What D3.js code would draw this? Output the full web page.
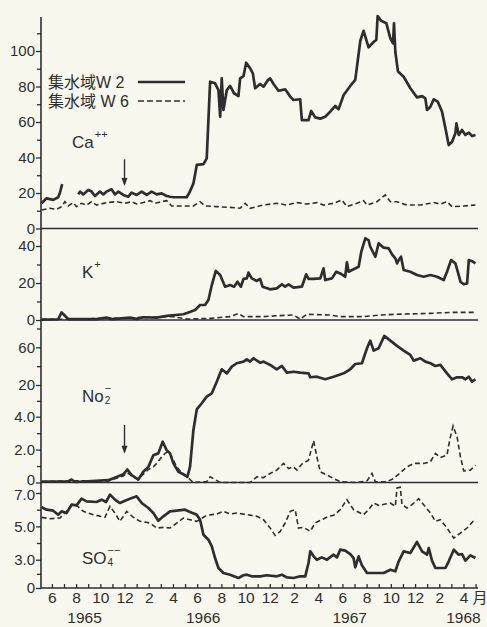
<!DOCTYPE html>
<html>
<head>
<meta charset="utf-8">
<script src="https://cdn.jsdelivr.net/npm/d3@7"></script>
<style>
  body { margin: 0; background: #f9f8ee; }
  svg { display: block; }
</style>
</head>
<body>
<svg id="chart"></svg>
<script>
// x values: month index, 6 = June 1965, 14 = Feb 1966, ...
const caW2 = [[5.15,14.2],[5.56,17],[6.11,16.1],[6.52,17.6],[6.66,20],[6.85,25],[7.5,null],
  [8.18,19.2],[8.32,20.8],[8.59,19.2],[9.0,21.7],[9.28,20.8],[9.56,18.3],[9.97,20.8],[10.25,19.2],[10.52,20.8],[10.93,22.1],[11.21,19.2],[11.49,20.8],[11.9,18.9],[12.31,17.9],[12.59,20.2],[13.0,18.9],[13.42,20.8],[13.83,18.9],[14.24,20.8],[14.66,19.2],[15.07,19.8],[15.48,18.3],[15.76,17.9],[16.04,17.6],[17.14,17.6],[17.36,20.2],[17.69,25.4],[17.97,35.8],[18.52,36.3],[18.79,39.5],[19.07,82.7],[19.48,81.8],[19.76,78],[19.9,63],[20.03,84.6],[20.17,66.8],[20.45,78],[20.72,80.3],[21.05,76.2],[21.41,74.6],[21.55,84.6],[21.83,85.9],[22.05,93.4],[22.38,90.2],[22.6,87.4],[22.79,79],[23.2,81.4],[23.48,79.9],[23.81,83.3],[24.03,84.6],[24.31,81.4],[24.72,77.6],[25.27,78.4],[25.69,74.3],[25.96,72.4],[26.51,72.8],[26.65,61.1],[27.2,61.1],[27.42,66.2],[27.75,62.6],[28.17,61.9],[28.58,63],[28.99,65.8],[29.41,69],[29.68,67.1],[30.1,75.2],[30.65,80.3],[31.06,83.7],[31.48,105.8],[31.75,111.4],[32.16,102.1],[32.58,105.1],[32.8,106.2],[32.91,119.7],[33.18,117.1],[33.63,115.6],[33.96,107.1],[34.18,104.3],[34.26,115.6],[34.37,99.6],[34.59,88.4],[35.06,85.5],[35.61,79],[36.16,73.9],[36.58,74.6],[36.85,73.3],[36.99,66.8],[37.27,68.6],[37.54,72.8],[37.87,71.5],[38.23,65.8],[38.51,56.4],[38.78,47],[39.06,48.9],[39.33,53.6],[39.42,59.2],[39.61,52.7],[39.88,55.5],[40.16,52.7],[40.44,54],[40.71,52.1],[40.99,52.7]];
const caW6 = [[5.15,10.4],[5.83,11.4],[6.39,10.8],[6.8,12.3],[7.07,15.1],[7.35,12.7],[7.76,14.6],[8.04,12.3],[8.45,14.2],[8.87,13.2],[9.28,15.1],[9.69,13.2],[10.52,14.6],[11.35,15.1],[12.04,14.2],[12.59,15.1],[13.0,13.8],[13.55,14.6],[14.11,15.7],[14.52,14.2],[15.07,15.1],[15.48,15.7],[15.9,12.7],[16.59,12.7],[17.69,12.7],[18.24,15.1],[18.65,12.7],[19.62,12.3],[20.72,11.9],[21.55,11.4],[21.96,14.2],[22.38,11.4],[23.48,13.2],[24.58,14.2],[25.41,13.2],[26.24,14.6],[27.06,13.8],[27.89,14.6],[28.44,13.2],[29.27,14.2],[29.96,16.1],[30.37,12.3],[31.2,14.2],[31.75,15.7],[32.03,13.2],[32.85,15.1],[33.54,18.9],[33.96,15.1],[34.51,15.1],[35.34,13.2],[36.44,13.2],[37.54,14.6],[38.09,13.8],[38.64,15.1],[39.06,12.3],[40.02,12.7],[40.99,13.2]];

const kW2 = [[5.15,0.2],[6.52,0.4],[6.8,4.1],[7.07,2.3],[7.35,0.5],[9.69,0.5],[10.5,1.3],[11.0,0.5],[12.45,1.3],[13.0,0.6],[13.5,1.5],[14.66,1.3],[15.5,2.2],[16.86,3.1],[17.28,4.1],[17.83,5.4],[18.24,8.1],[18.65,8.1],[18.93,10.8],[19.21,18.9],[19.54,26.5],[19.9,24.3],[20.31,18],[20.72,18.9],[21.05,18],[21.33,20.7],[21.61,18],[21.83,22.2],[22.1,22.5],[22.24,25.6],[22.51,22.5],[22.93,21.1],[23.2,22.2],[23.4,18],[24.03,16.6],[24.58,17.1],[25.0,19.3],[25.27,18],[25.55,19.3],[25.96,17.5],[26.65,18],[27.01,24.7],[27.2,22.2],[27.62,22.2],[28.17,22.5],[28.44,27.9],[28.58,21.6],[29.13,22.5],[29.49,26.1],[29.82,25.2],[30.23,23.4],[30.37,31.2],[30.51,26.1],[30.92,27.4],[31.34,28.8],[31.56,36.9],[31.89,44.1],[32.16,43.2],[32.3,39.6],[32.72,34.2],[32.99,41.4],[33.41,39.1],[33.82,38.7],[34.1,35.5],[34.37,33.3],[34.51,30.6],[34.65,32.4],[34.84,34.2],[35.06,27],[35.61,26.1],[36.16,24.3],[36.71,23.4],[37.27,24.3],[37.82,23.4],[38.37,21.6],[38.64,26.1],[38.98,32.4],[39.33,30.6],[39.61,24.3],[39.75,20.7],[40.02,19.3],[40.3,19.8],[40.44,32.4],[40.71,31.8],[40.99,30.6]];
const kW6 = [[5.15,0.3],[8,0.5],[10,0.8],[12,1.0],[14,1.5],[16,1.8],[17.14,0.5],[19.07,0.9],[20.72,1.8],[21.41,3.6],[21.83,1.8],[23.48,1.8],[24.58,2.3],[25.96,2.7],[26.51,0.5],[27.06,3.1],[28.99,2.7],[29.82,1.8],[31.75,1.8],[33.13,2.7],[34.51,3.1],[37.27,3.6],[38.92,4.1],[40.99,4.1]];

const no2W2 = [[5.15,0.05],[6.5,0.05],[7.3,0.05],[7.63,0.18],[7.9,0.03],[10.66,0.14],[11.35,0.34],[11.9,0.5],[12.23,0.79],[12.59,0.45],[13.14,0.18],[13.55,0.65],[13.97,0.95],[14.38,1.66],[14.79,1.77],[15.15,2.48],[15.48,1.97],[15.76,1.77],[16.04,1.16],[16.45,0.65],[16.86,0.5],[17.19,0.34],[17.41,0.95],[17.69,3.19],[17.97,7.7],[18.38,10.8],[18.79,14.1],[19.21,15.8],[19.62,23.5],[20.03,36.7],[20.45,32.4],[20.86,39.5],[21.27,43.1],[21.83,44.8],[22.1,47.3],[22.38,44.8],[22.65,48.4],[23.2,43.7],[23.48,44.8],[24.03,41.3],[24.58,36.7],[25.0,40.2],[25.41,33.1],[25.96,34.1],[26.51,33.1],[27.2,32.4],[27.34,28.2],[27.89,28.8],[28.58,26.1],[29.27,28.8],[30.1,32.4],[30.65,36.7],[31.06,42.3],[31.61,43.1],[32.03,59],[32.3,67.1],[32.58,56.5],[32.99,59],[33.46,72.1],[33.96,67.1],[34.51,61.5],[35.06,56.5],[35.61,51.9],[35.89,45.9],[36.44,48.4],[36.85,44.8],[37.27,43.1],[37.68,40.2],[38.09,41.3],[38.64,32.4],[39.06,26.1],[39.47,28.2],[39.88,28.2],[40.16,26.1],[40.44,28.8],[40.71,23.5],[40.99,26.1]];
const no2W6 = [[5.15,0.05],[7.63,0.1],[10.66,0.1],[11.9,0.4],[12.23,0.6],[12.59,0.4],[13.14,0.2],[13.55,0.5],[13.97,0.79],[14.38,0.95],[14.66,1.16],[15.07,1.56],[15.35,1.77],[15.62,1.87],[15.9,1.56],[16.31,0.95],[16.72,0.59],[17.14,0.38],[17.41,0.18],[17.69,0],[18.79,0.05],[19.07,0.34],[19.48,0.18],[19.9,0],[22.38,0],[22.93,0.34],[23.48,0.3],[24.03,0.55],[24.58,0.75],[25.13,1.16],[25.55,0.85],[25.96,0.95],[26.24,0.75],[26.65,1.12],[27.2,1.36],[27.62,2.54],[27.89,1.56],[28.17,0.65],[28.72,0.45],[29.27,0.24],[29.82,0.05],[31.2,0],[32.03,0.1],[32.44,0.55],[32.72,0.05],[33.68,0.05],[34.23,0.24],[34.78,0.59],[35.34,0.95],[35.89,1.16],[36.71,1.16],[37.27,1.26],[37.68,1.77],[38.09,1.52],[38.64,1.66],[38.86,2.58],[39.14,3.43],[39.47,2.78],[39.75,1.56],[40.02,0.71],[40.57,0.75],[40.99,1.05]];

const so4W2 = [[5.15,6.14],[5.56,6.0],[6.11,5.94],[6.52,5.7],[6.8,5.9],[7.21,5.8],[7.63,6.3],[8.04,6.26],[8.45,6.66],[8.87,6.5],[9.69,6.46],[10.11,6.6],[10.47,6.46],[10.8,6.9],[11.21,6.6],[11.62,6.4],[12.04,6.54],[12.45,6.66],[13.0,6.8],[13.42,6.4],[13.97,6.1],[14.38,5.8],[14.79,5.34],[15.21,5.6],[15.76,5.9],[16.31,5.94],[17.0,6.0],[17.41,5.86],[17.97,5.7],[18.24,5.4],[18.52,4.5],[18.93,4.2],[19.21,3.8],[19.48,3.1],[19.76,2.12],[20.17,1.59],[20.72,1.41],[21.41,1.06],[21.83,1.35],[22.1,1.41],[22.51,1.24],[23.2,1.24],[23.76,1.35],[24.58,1.24],[25.0,1.41],[25.41,1.13],[25.96,1.06],[26.51,1.24],[26.93,1.24],[27.2,2.65],[27.34,3.5],[27.62,3.2],[27.89,3.0],[28.3,3.14],[28.72,3.0],[29.27,3.3],[29.55,3.14],[29.82,3.6],[30.23,3.54],[30.65,3.34],[30.92,3.1],[31.06,2.19],[31.34,3.2],[31.61,2.4],[32.03,1.59],[32.58,1.59],[33.41,1.59],[33.96,1.94],[34.37,1.77],[34.65,2.83],[35.06,3.5],[35.61,3.4],[36.16,4.06],[36.58,3.5],[36.99,3.3],[37.13,3.7],[37.4,2.9],[37.68,2.12],[38.51,2.12],[38.78,2.83],[39.2,3.6],[39.61,3.3],[39.88,3.34],[40.16,2.9],[40.57,3.26],[40.99,3.1]];
const so4W6 = [[5.15,5.54],[5.83,5.46],[6.66,5.5],[7.21,5.9],[7.63,6.3],[8.04,6.26],[8.59,5.9],[9.42,5.7],[10.38,5.54],[10.8,6.2],[11.21,5.8],[11.62,5.3],[12.18,5.9],[12.73,5.54],[13.28,5.3],[14.11,5.2],[14.66,4.9],[15.21,4.94],[15.76,4.9],[16.31,5.2],[16.86,5.5],[17.41,5.4],[17.97,5.3],[18.79,5.66],[19.62,5.74],[20.17,5.9],[20.72,5.74],[21.27,5.8],[22.1,5.7],[22.93,5.6],[23.48,5.4],[24.03,4.9],[24.44,4.46],[24.86,4.7],[25.27,5.2],[25.69,5.9],[26.1,6.0],[26.37,4.9],[26.79,4.94],[27.34,4.7],[27.75,5.2],[28.3,5.4],[28.86,5.6],[29.27,5.66],[29.82,6.0],[30.37,6.6],[30.92,6.0],[31.75,5.7],[32.16,6.0],[32.58,6.4],[32.99,6.26],[33.54,6.34],[33.96,6.4],[34.37,6.2],[34.51,7.3],[34.78,7.34],[34.92,6.3],[35.34,6.1],[35.75,6.3],[36.3,6.66],[36.71,6.3],[37.27,5.8],[37.68,5.3],[38.09,5.4],[38.64,4.9],[39.2,4.3],[39.75,4.6],[40.3,4.9],[40.99,5.46]];

// tick labels
const caTicks = [0, 20, 40, 60, 80, 100];
const caMinor = [10, 30, 50, 70, 90, 110];
const kTicks = [0, 20, 40];
const kMinor = [10, 30];
const no2Ticks = [0, 2, 4, 20, 60];
const no2Minor = [1, 3, 12, 40, 80];
const so4Ticks = [0, 3, 5, 7];
const so4Minor = [1.5, 4, 6];
const monthTicks = d3.range(6, 42);
const yearLabels = ["1965", "1966", "1967", "1968"];
const yearPos = [8.7, 18.5, 30.6, 40];
const legendNames = ["集水域W 2", "集水域 W 6"];
const arrowMonth = 12;

const W = 487, H = 627;
const ink = "#2e2e2e";
const font = "'Liberation Sans', Arial, sans-serif";

const svg = d3.select("#chart").attr("width", W).attr("height", H)
  .style("background", "#f9f8ee");

const x = d3.scaleLinear().domain([5.1, 41.2]).range([41, 478]);

// Stacked panels, each with its own value scale
const panels = [
  { name: "ca", y: d3.scaleLinear().domain([0, 120]).range([228.5, 15.5]),
    ticks: caTicks, minor: caMinor, fmt: d => d, w2: caW2, w6: caW6, zeroShift: 0 },
  { name: "k", y: d3.scaleLinear().domain([0, 40]).range([320, 246]),
    ticks: kTicks, minor: kMinor, fmt: d => d, w2: kW2, w6: kW6, zeroShift: 0 },
  { name: "no2", y: d3.scaleLinear().domain([0, 4, 20, 80]).range([482.5, 416.7, 385, 328.5]),
    ticks: no2Ticks, minor: no2Minor, fmt: d => d === 0 ? "0" : (d < 10 ? d.toFixed(1) : d), w2: no2W2, w6: no2W6, zeroShift: -3 },
  { name: "so4", y: d3.scaleLinear().domain([0, 3, 7]).range([588, 559.7, 493]),
    ticks: so4Ticks, minor: so4Minor, fmt: d => d === 0 ? "0" : d.toFixed(1), w2: so4W2, w6: so4W6, zeroShift: 0 }
];

panels.forEach(p => {
  // Major ticks with labels
  const ax = svg.append("g")
    .attr("transform", "translate(41,0)")
    .call(d3.axisLeft(p.y).tickValues(p.ticks).tickSize(5).tickPadding(1).tickFormat(p.fmt));
  // Minor ticks
  const mn = svg.append("g")
    .attr("transform", "translate(41,0)")
    .call(d3.axisLeft(p.y).tickValues(p.minor).tickSize(4).tickFormat(""));
  [ax, mn].forEach(g => {
    g.select(".domain").remove();
    g.selectAll("line").attr("stroke", ink).attr("stroke-width", 1.3);
  });
  ax.selectAll("text").attr("font-family", font).attr("font-size", 15).attr("fill", ink);
  // keep the bottom "0" label clear of the panel below
  ax.selectAll(".tick").filter(d => d === 0).select("text")
    .attr("y", p.zeroShift);
  if (p.name === "so4") {
    ax.selectAll(".tick").filter(d => d === 7).select("text").attr("y", 2);
  }

  // zero line across the panel
  svg.append("line")
    .attr("x1", 41).attr("x2", 478)
    .attr("y1", p.y(0)).attr("y2", p.y(0))
    .attr("stroke", ink).attr("stroke-width", 1.6);

  const line = d3.line()
    .defined(d => d[1] != null)
    .x(d => x(d[0]))
    .y(d => p.y(d[1]));

  svg.append("path").datum(p.w6)
    .attr("d", line).attr("fill", "none")
    .attr("stroke", ink).attr("stroke-width", 1.6)
    .attr("stroke-dasharray", "5,3");

  svg.append("path").datum(p.w2)
    .attr("d", line).attr("fill", "none")
    .attr("stroke", ink).attr("stroke-width", 2.7)
    .attr("stroke-linejoin", "round");
});

// vertical axis line
svg.append("line")
  .attr("x1", 41).attr("x2", 41).attr("y1", 17).attr("y2", 588)
  .attr("stroke", ink).attr("stroke-width", 1.6);

// month axis
const xa = svg.append("g")
  .attr("transform", "translate(0,588)")
  .call(d3.axisBottom(x).tickValues(monthTicks).tickSize(-4).tickPadding(4)
    .tickFormat(m => m % 2 === 0 ? ((m - 1) % 12 + 1) : ""));
xa.select(".domain").remove();
xa.selectAll("line").attr("stroke", ink).attr("stroke-width", 1.3);
xa.selectAll("text").attr("font-family", font).attr("font-size", 15.5).attr("fill", ink);

svg.append("text")
  .attr("x", 480).attr("y", 603).attr("text-anchor", "middle")
  .attr("font-family", "'Noto Sans CJK JP', sans-serif").attr("font-size", 15)
  .attr("fill", ink).text("月");

svg.selectAll(".year").data(yearLabels).enter().append("text")
  .attr("x", (d, i) => x(yearPos[i])).attr("y", 623)
  .attr("text-anchor", "middle")
  .attr("font-family", font).attr("font-size", 15.5).attr("fill", ink)
  .text(d => d);

// legend
legendNames.forEach((name, i) => {
  const ly = 82 + i * 19;
  svg.append("text")
    .attr("x", 48).attr("y", ly + 6)
    .attr("font-family", "'Liberation Sans', 'Noto Sans CJK JP', sans-serif")
    .attr("font-size", 16).attr("fill", ink)
    .text(name);
  svg.append("line")
    .attr("x1", 138).attr("x2", 185).attr("y1", ly).attr("y2", ly)
    .attr("stroke", ink).attr("stroke-width", i === 0 ? 2.4 : 1.6)
    .attr("stroke-dasharray", i === 0 ? null : "6,3");
});

// ion labels
function ionLabel(xp, yp, main, sub, sup) {
  const t = svg.append("text").attr("x", xp).attr("y", yp)
    .attr("font-family", font).attr("font-size", 17).attr("fill", ink);
  t.append("tspan").text(main);
  const end = t.node().getComputedTextLength();
  if (sub) {
    svg.append("text").attr("x", xp + end + 1).attr("y", yp + 2)
      .attr("font-family", font).attr("font-size", 10).attr("fill", ink).text(sub);
  }
  if (sup) {
    svg.append("text").attr("x", xp + end + 1).attr("y", yp - 10)
      .attr("font-family", font).attr("font-size", 11).attr("fill", ink).text(sup);
  }
}
ionLabel(72, 148, "Ca", null, "++");
ionLabel(82, 278, "K", null, "+");
ionLabel(82, 402, "No", "2", "−");
ionLabel(82, 564, "SO", "4", "−−");

// arrows
const arrows = [
  { p: panels[0], from: 39, to: 24 },
  { p: panels[2], from: 3.5, to: 1.75 }
];
arrows.forEach(a => {
  const ax = x(arrowMonth);
  const y1 = a.p.y(a.from), y2 = a.p.y(a.to);
  svg.append("line").attr("x1", ax).attr("x2", ax).attr("y1", y1).attr("y2", y2 - 2)
    .attr("stroke", ink).attr("stroke-width", 1.4);
  svg.append("path")
    .attr("d", `M${ax - 3},${y2 - 8} L${ax},${y2} L${ax + 3},${y2 - 8} Z`)
    .attr("fill", ink);
});
</script>
</body>
</html>
